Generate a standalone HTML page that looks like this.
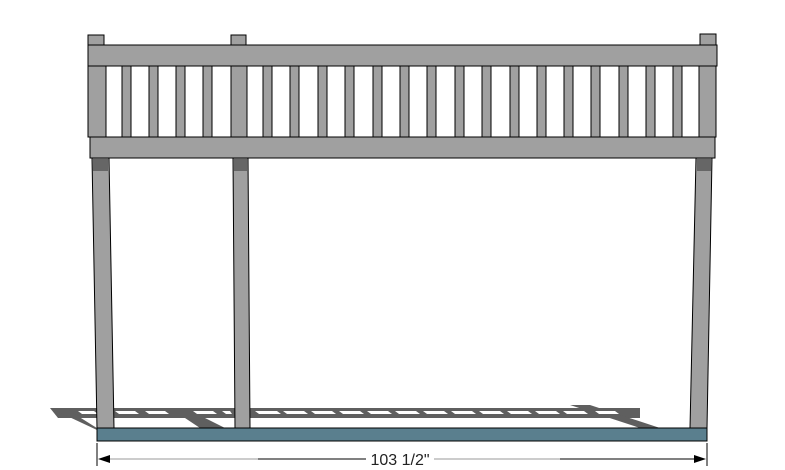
<!DOCTYPE html>
<html><head><meta charset="utf-8"><style>html,body{margin:0;padding:0;background:#fff;width:785px;height:470px;overflow:hidden}</style></head>
<body>
<svg width="785" height="470" viewBox="0 0 785 470" xmlns="http://www.w3.org/2000/svg">
<!-- shadow -->
<polygon points="50,408 640,408 640,418 58,418" fill="#5f5f5f"/>
<polygon points="50,408 65,408 100,430 97,430" fill="#5f5f5f"/>
<polygon points="170,408 185,408 225,428 200,428" fill="#5f5f5f"/>
<polygon points="570,405 590,405 660,428 640,428" fill="#5f5f5f"/>
<g fill="#fff">
<polygon points="78,411 94,411 98,414 82,414"/>
<polygon points="115,411 135,411 139,414 119,414"/>
<polygon points="145,411 165,411 169,414 149,414"/>
<polygon points="193,411 213,411 217,414 197,414"/>
<polygon points="222,411 230,411 232,414 226,414"/>
<polygon points="255,411 277,411 281,414 259,414"/>
<polygon points="283,411 304,411 308,414 287,414"/>
<polygon points="311,411 332,411 336,414 315,414"/>
<polygon points="339,411 360,411 364,414 343,414"/>
<polygon points="367,411 388,411 392,414 371,414"/>
<polygon points="395,411 416,411 420,414 399,414"/>
<polygon points="423,411 444,411 448,414 427,414"/>
<polygon points="451,411 472,411 476,414 455,414"/>
<polygon points="479,411 500,411 504,414 483,414"/>
<polygon points="507,411 528,411 532,414 511,414"/>
<polygon points="535,411 556,411 560,414 539,414"/>
<polygon points="563,411 584,411 588,414 567,414"/>
<polygon points="595,411 615,411 619,414 599,414"/>
</g>
<!-- base board -->
<rect x="97" y="428" width="610" height="13" fill="#5a7f8e" stroke="#000" stroke-width="1"/>
<!-- legs -->
<g fill="#a0a0a0" stroke="#000" stroke-width="1">
<polygon points="92,158 109,158 114,428 97,428"/>
<polygon points="233,158 248,158 250,428 235,428"/>
<polygon points="696,158 712,158 707,428 690,428"/>
</g>
<g fill="#666">
<rect x="93" y="159" width="15" height="12"/>
<rect x="234" y="159" width="13" height="12"/>
<rect x="697" y="159" width="14" height="12"/>
</g>
<!-- post tops -->
<g fill="#a0a0a0" stroke="#000" stroke-width="1">
<rect x="88" y="35" width="16" height="11"/>
<rect x="231" y="35" width="15" height="11"/>
<rect x="700" y="34" width="16" height="11"/>
</g>
<!-- balusters -->
<g fill="#a0a0a0" stroke="#000" stroke-width="1">
<rect x="88" y="66" width="18" height="71"/>
<rect x="231" y="66" width="16" height="71"/>
<rect x="699" y="66" width="17" height="71"/>
<rect x="122" y="66" width="9" height="71"/>
<rect x="149" y="66" width="9" height="71"/>
<rect x="176" y="66" width="9" height="71"/>
<rect x="203" y="66" width="9" height="71"/>
<rect x="263" y="66" width="9" height="71"/>
<rect x="290" y="66" width="9" height="71"/>
<rect x="318" y="66" width="9" height="71"/>
<rect x="345" y="66" width="9" height="71"/>
<rect x="373" y="66" width="9" height="71"/>
<rect x="400" y="66" width="9" height="71"/>
<rect x="427" y="66" width="9" height="71"/>
<rect x="455" y="66" width="9" height="71"/>
<rect x="482" y="66" width="9" height="71"/>
<rect x="510" y="66" width="9" height="71"/>
<rect x="537" y="66" width="9" height="71"/>
<rect x="564" y="66" width="9" height="71"/>
<rect x="591" y="66" width="9" height="71"/>
<rect x="619" y="66" width="9" height="71"/>
<rect x="646" y="66" width="9" height="71"/>
<rect x="673" y="66" width="9" height="71"/>
</g>
<!-- rails -->
<g fill="#a0a0a0" stroke="#000" stroke-width="1">
<rect x="88" y="45" width="629" height="21"/>
<rect x="90" y="137" width="625" height="21"/>
</g>
<!-- dimension -->
<g stroke-width="1">
<line x1="97" y1="443" x2="97" y2="466" stroke="#000"/>
<line x1="707" y1="443" x2="707" y2="466" stroke="#000"/>
<line x1="100" y1="459" x2="258" y2="459" stroke="#999"/>
<line x1="258" y1="459" x2="366" y2="459" stroke="#000"/>
<line x1="434" y1="459" x2="560" y2="459" stroke="#999"/>
<line x1="560" y1="459" x2="704" y2="459" stroke="#000"/>
</g>
<polygon points="98,459 110,455 110,463" fill="#000"/>
<polygon points="706,459 694,455 694,463" fill="#000"/>
<text x="400" y="465" font-family="Liberation Sans, sans-serif" font-size="16" text-anchor="middle" fill="#222">103 1/2"</text>
</svg>
</body></html>
